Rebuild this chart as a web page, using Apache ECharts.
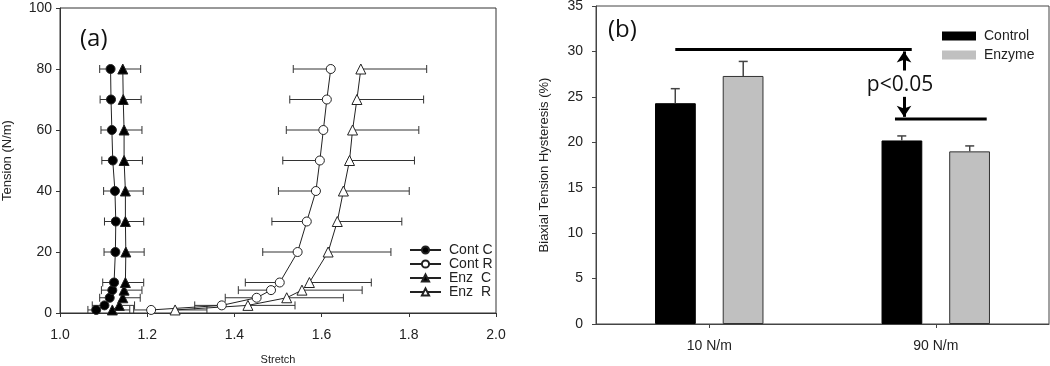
<!DOCTYPE html>
<html>
<head>
<meta charset="utf-8">
<script src="https://cdn.jsdelivr.net/npm/echarts@6/dist/echarts.min.js"></script>
<style>
  html, body { margin: 0; padding: 0; background: #fff; }
  #chart { width: 1050px; height: 366px; }
</style>
</head>
<body>
<div id="chart"></div>
<script>
// (a) tension levels (N/m) and mean stretch / SD for each group
const tension = [1, 2.5, 5, 7.5, 10, 20, 30, 40, 50, 60, 70, 80];
const contC = [1.083, 1.102, 1.114, 1.120, 1.124, 1.127, 1.128, 1.126, 1.121, 1.119, 1.117, 1.116];
const contCErr = [0.019, 0.028, 0.023, 0.025, 0.026, 0.026, 0.026, 0.026, 0.025, 0.025, 0.025, 0.025];
const contR = [1.209, 1.371, 1.451, 1.484, 1.504, 1.545, 1.566, 1.587, 1.596, 1.604, 1.612, 1.621];
const contRErr = [0.040, 0.062, 0.072, 0.075, 0.079, 0.080, 0.080, 0.086, 0.085, 0.085, 0.085, 0.086];
const enzC = [1.120, 1.136, 1.144, 1.147, 1.150, 1.151, 1.150, 1.150, 1.147, 1.147, 1.145, 1.144];
const enzCErr = [0.040, 0.035, 0.040, 0.041, 0.042, 0.042, 0.042, 0.041, 0.042, 0.041, 0.041, 0.041];
const enzR = [1.264, 1.431, 1.520, 1.555, 1.572, 1.615, 1.636, 1.650, 1.664, 1.671, 1.681, 1.690];
const enzRErr = [0.073, 0.108, 0.130, 0.138, 0.142, 0.144, 0.148, 0.151, 0.149, 0.152, 0.153, 0.151];

// (b) hysteresis (%) at two loads
const loads = ['10 N/m', '90 N/m'];
const control = [24.3, 20.2];
const controlErr = [1.6, 0.5];
const enzyme = [27.3, 19.0];
const enzymeErr = [1.6, 0.6];

// significance bars, in (b) data space (x: category index)
const sigTop = [[-0.15, 30.2], [0.894, 30.2]];
const sigBottom = [[0.82, 22.56], [1.225, 22.56]];
const sigArrowX = 0.86;

const sans = "'Liberation Sans', Arial, sans-serif";
const ink = '#222';

// horizontal error bar, one side only (side = -1 left, 1 right)
function hErr(xs, errs, side) {
  return {
    type: 'custom', xAxisIndex: 0, yAxisIndex: 0, silent: true, z: 1,
    encode: { x: 0, y: 1 },
    data: tension.map((t, i) => [xs[i], t, errs[i]]),
    renderItem: function (params, api) {
      const p0 = api.coord([api.value(0), api.value(1)]);
      const p1 = api.coord([api.value(0) + side * api.value(2), api.value(1)]);
      const st = { stroke: '#333', lineWidth: 1 };
      return { type: 'group', children: [
        { type: 'line', shape: { x1: p0[0], y1: p0[1], x2: p1[0], y2: p1[1] }, style: st },
        { type: 'line', shape: { x1: p1[0], y1: p1[1] - 4, x2: p1[0], y2: p1[1] + 4 }, style: st }
      ] };
    }
  };
}

// upward error bar on grouped bars (shift = fraction of band width)
function vErr(vals, errs, shift) {
  return {
    type: 'custom', xAxisIndex: 1, yAxisIndex: 1, silent: true, z: 3,
    encode: { x: 0, y: 1 },
    data: vals.map((v, i) => [i, v, errs[i]]),
    renderItem: function (params, api) {
      const band = api.size([1, 0])[0];
      const a = api.coord([api.value(0), api.value(1)]);
      const b = api.coord([api.value(0), api.value(1) + api.value(2)]);
      const x = a[0] + shift * band;
      const st = { stroke: '#444', lineWidth: 1.5 };
      return { type: 'group', children: [
        { type: 'line', shape: { x1: x, y1: a[1], x2: x, y2: b[1] }, style: st },
        { type: 'line', shape: { x1: x - 4.5, y1: b[1], x2: x + 4.5, y2: b[1] }, style: st }
      ] };
    }
  };
}

function curve(name, xs, symbol, fill) {
  return {
    name: name, type: 'line', xAxisIndex: 0, yAxisIndex: 0, z: 5,
    data: tension.map((t, i) => [xs[i], t]),
    symbol: symbol, symbolSize: symbol === 'circle' ? 9 : 10,
    showSymbol: true,
    lineStyle: { color: ink, width: 1 },
    itemStyle: { color: fill, borderColor: ink, borderWidth: 1 }
  };
}

const chart = echarts.init(document.getElementById('chart'));
chart.setOption({
  animation: false,
  textStyle: { fontFamily: sans, color: ink },
  title: [
    { text: '(a)', left: 80, top: 27, padding: 0,
      textStyle: { fontFamily: 'Open Sans', fontSize: 24, fontWeight: 'normal', color: '#111' } },
    { text: '(b)', left: 608, top: 18, padding: 0,
      textStyle: { fontFamily: 'Open Sans', fontSize: 24, fontWeight: 'normal', color: '#111' } }
  ],
  grid: [
    { left: 60, top: 8, width: 436, height: 305, outerBoundsMode: 'none',
      show: true, borderColor: '#333', borderWidth: 1 },
    { left: 596, top: 6, width: 453, height: 318, outerBoundsMode: 'none',
      show: true, borderColor: '#444', borderWidth: 1 }
  ],
  legend: [
    {
      data: ['Cont C', 'Cont R', 'Enz  C', 'Enz  R'],
      orient: 'vertical', left: 409, top: 243, padding: 0, itemGap: 0,
      itemWidth: 31, itemHeight: 9,
      textStyle: { fontFamily: sans, fontSize: 14, lineHeight: 13, color: ink, padding: [0, 0, 0, 3] }
    },
    {
      data: [
        { name: 'Control', itemStyle: { borderWidth: 0 } },
        { name: 'Enzyme', itemStyle: { borderWidth: 0 } }
      ],
      orient: 'vertical', left: 942, top: 29, padding: 0, itemGap: 5,
      itemWidth: 34, itemHeight: 9, icon: 'rect',
      textStyle: { fontFamily: sans, fontSize: 14, lineHeight: 14, color: ink, padding: [0, 0, 0, 3] }
    }
  ],
  xAxis: [
    {
      gridIndex: 0, type: 'value', min: 1.0, max: 2.0, interval: 0.2,
      name: 'Stretch', nameLocation: 'middle', nameGap: 41,
      nameTextStyle: { fontSize: 11, color: ink },
      axisLine: { onZero: false, lineStyle: { color: '#333' } },
      axisTick: { show: true, length: 4, lineStyle: { color: '#333' } },
      axisLabel: { fontSize: 14, margin: 15, color: ink, formatter: v => v.toFixed(1) },
      splitLine: { show: false }
    },
    {
      gridIndex: 1, type: 'category', data: loads,
      axisLine: { onZero: false, lineStyle: { color: '#444' } },
      axisTick: { show: true, alignWithLabel: true, length: 4, lineStyle: { color: '#444' } },
      axisLabel: { fontSize: 14, margin: 15, color: ink }
    },
    { gridIndex: 1, type: 'value', min: -0.5, max: 1.5, show: false }
  ],
  yAxis: [
    {
      gridIndex: 0, type: 'value', min: 0, max: 100, interval: 20,
      name: 'Tension (N/m)', nameLocation: 'middle', nameGap: 46,
      nameTextStyle: { fontSize: 13, color: ink },
      axisLine: { show: true, onZero: false, lineStyle: { color: '#333' } },
      axisTick: { show: true, length: 4, lineStyle: { color: '#333' } },
      axisLabel: { fontSize: 14, margin: 8, color: ink },
      splitLine: { show: false }
    },
    {
      gridIndex: 1, type: 'value', min: 0, max: 35, interval: 5,
      name: 'Biaxial Tension Hysteresis (%)', nameLocation: 'middle', nameGap: 45,
      nameTextStyle: { fontSize: 13, color: ink },
      axisLine: { show: true, onZero: false, lineStyle: { color: '#444' } },
      axisTick: { show: true, length: 4, lineStyle: { color: '#444' } },
      axisLabel: { fontSize: 14, margin: 13, color: ink },
      splitLine: { show: false }
    }
  ],
  graphic: [
    { type: 'text', x: 900, y: 85, silent: true,
      style: { text: 'p<0.05', fontFamily: 'Open Sans', fontSize: 21, fill: '#111',
               textAlign: 'center', textVerticalAlign: 'middle' } }
  ],
  series: [
    hErr(contC, contCErr, -1),
    hErr(contR, contRErr, -1),
    hErr(enzC, enzCErr, 1),
    hErr(enzR, enzRErr, 1),
    curve('Cont C', contC, 'circle', '#000'),
    curve('Cont R', contR, 'circle', '#fff'),
    curve('Enz  C', enzC, 'triangle', '#000'),
    curve('Enz  R', enzR, 'triangle', '#fff'),
    {
      name: 'Control', type: 'bar', xAxisIndex: 1, yAxisIndex: 1, data: control,
      barWidth: '18%', barGap: '66%',
      itemStyle: { color: '#000', borderColor: '#000', borderWidth: 1 }
    },
    {
      name: 'Enzyme', type: 'bar', xAxisIndex: 1, yAxisIndex: 1, data: enzyme,
      barWidth: '18%', barGap: '66%',
      itemStyle: { color: '#c0c0c0', borderColor: '#333', borderWidth: 1 }
    },
    vErr(control, controlErr, -0.15),
    vErr(enzyme, enzymeErr, 0.15),
    {
      type: 'line', xAxisIndex: 2, yAxisIndex: 1, data: sigTop, silent: true,
      symbol: 'none', lineStyle: { color: '#000', width: 3 }, z: 4,
      markLine: {
        silent: true, symbol: ['none', 'arrow'], symbolSize: [11, 11],
        label: { show: false },
        lineStyle: { color: '#000', width: 3, type: 'solid' },
        data: [
          [{ coord: [sigArrowX, 27.9] }, { coord: [sigArrowX, 30.0] }],
          [{ coord: [sigArrowX, 25.0] }, { coord: [sigArrowX, 22.8] }]
        ]
      }
    },
    {
      type: 'line', xAxisIndex: 2, yAxisIndex: 1, data: sigBottom, silent: true,
      symbol: 'none', lineStyle: { color: '#000', width: 3 }, z: 4
    }
  ]
});
</script>
</body>
</html>
